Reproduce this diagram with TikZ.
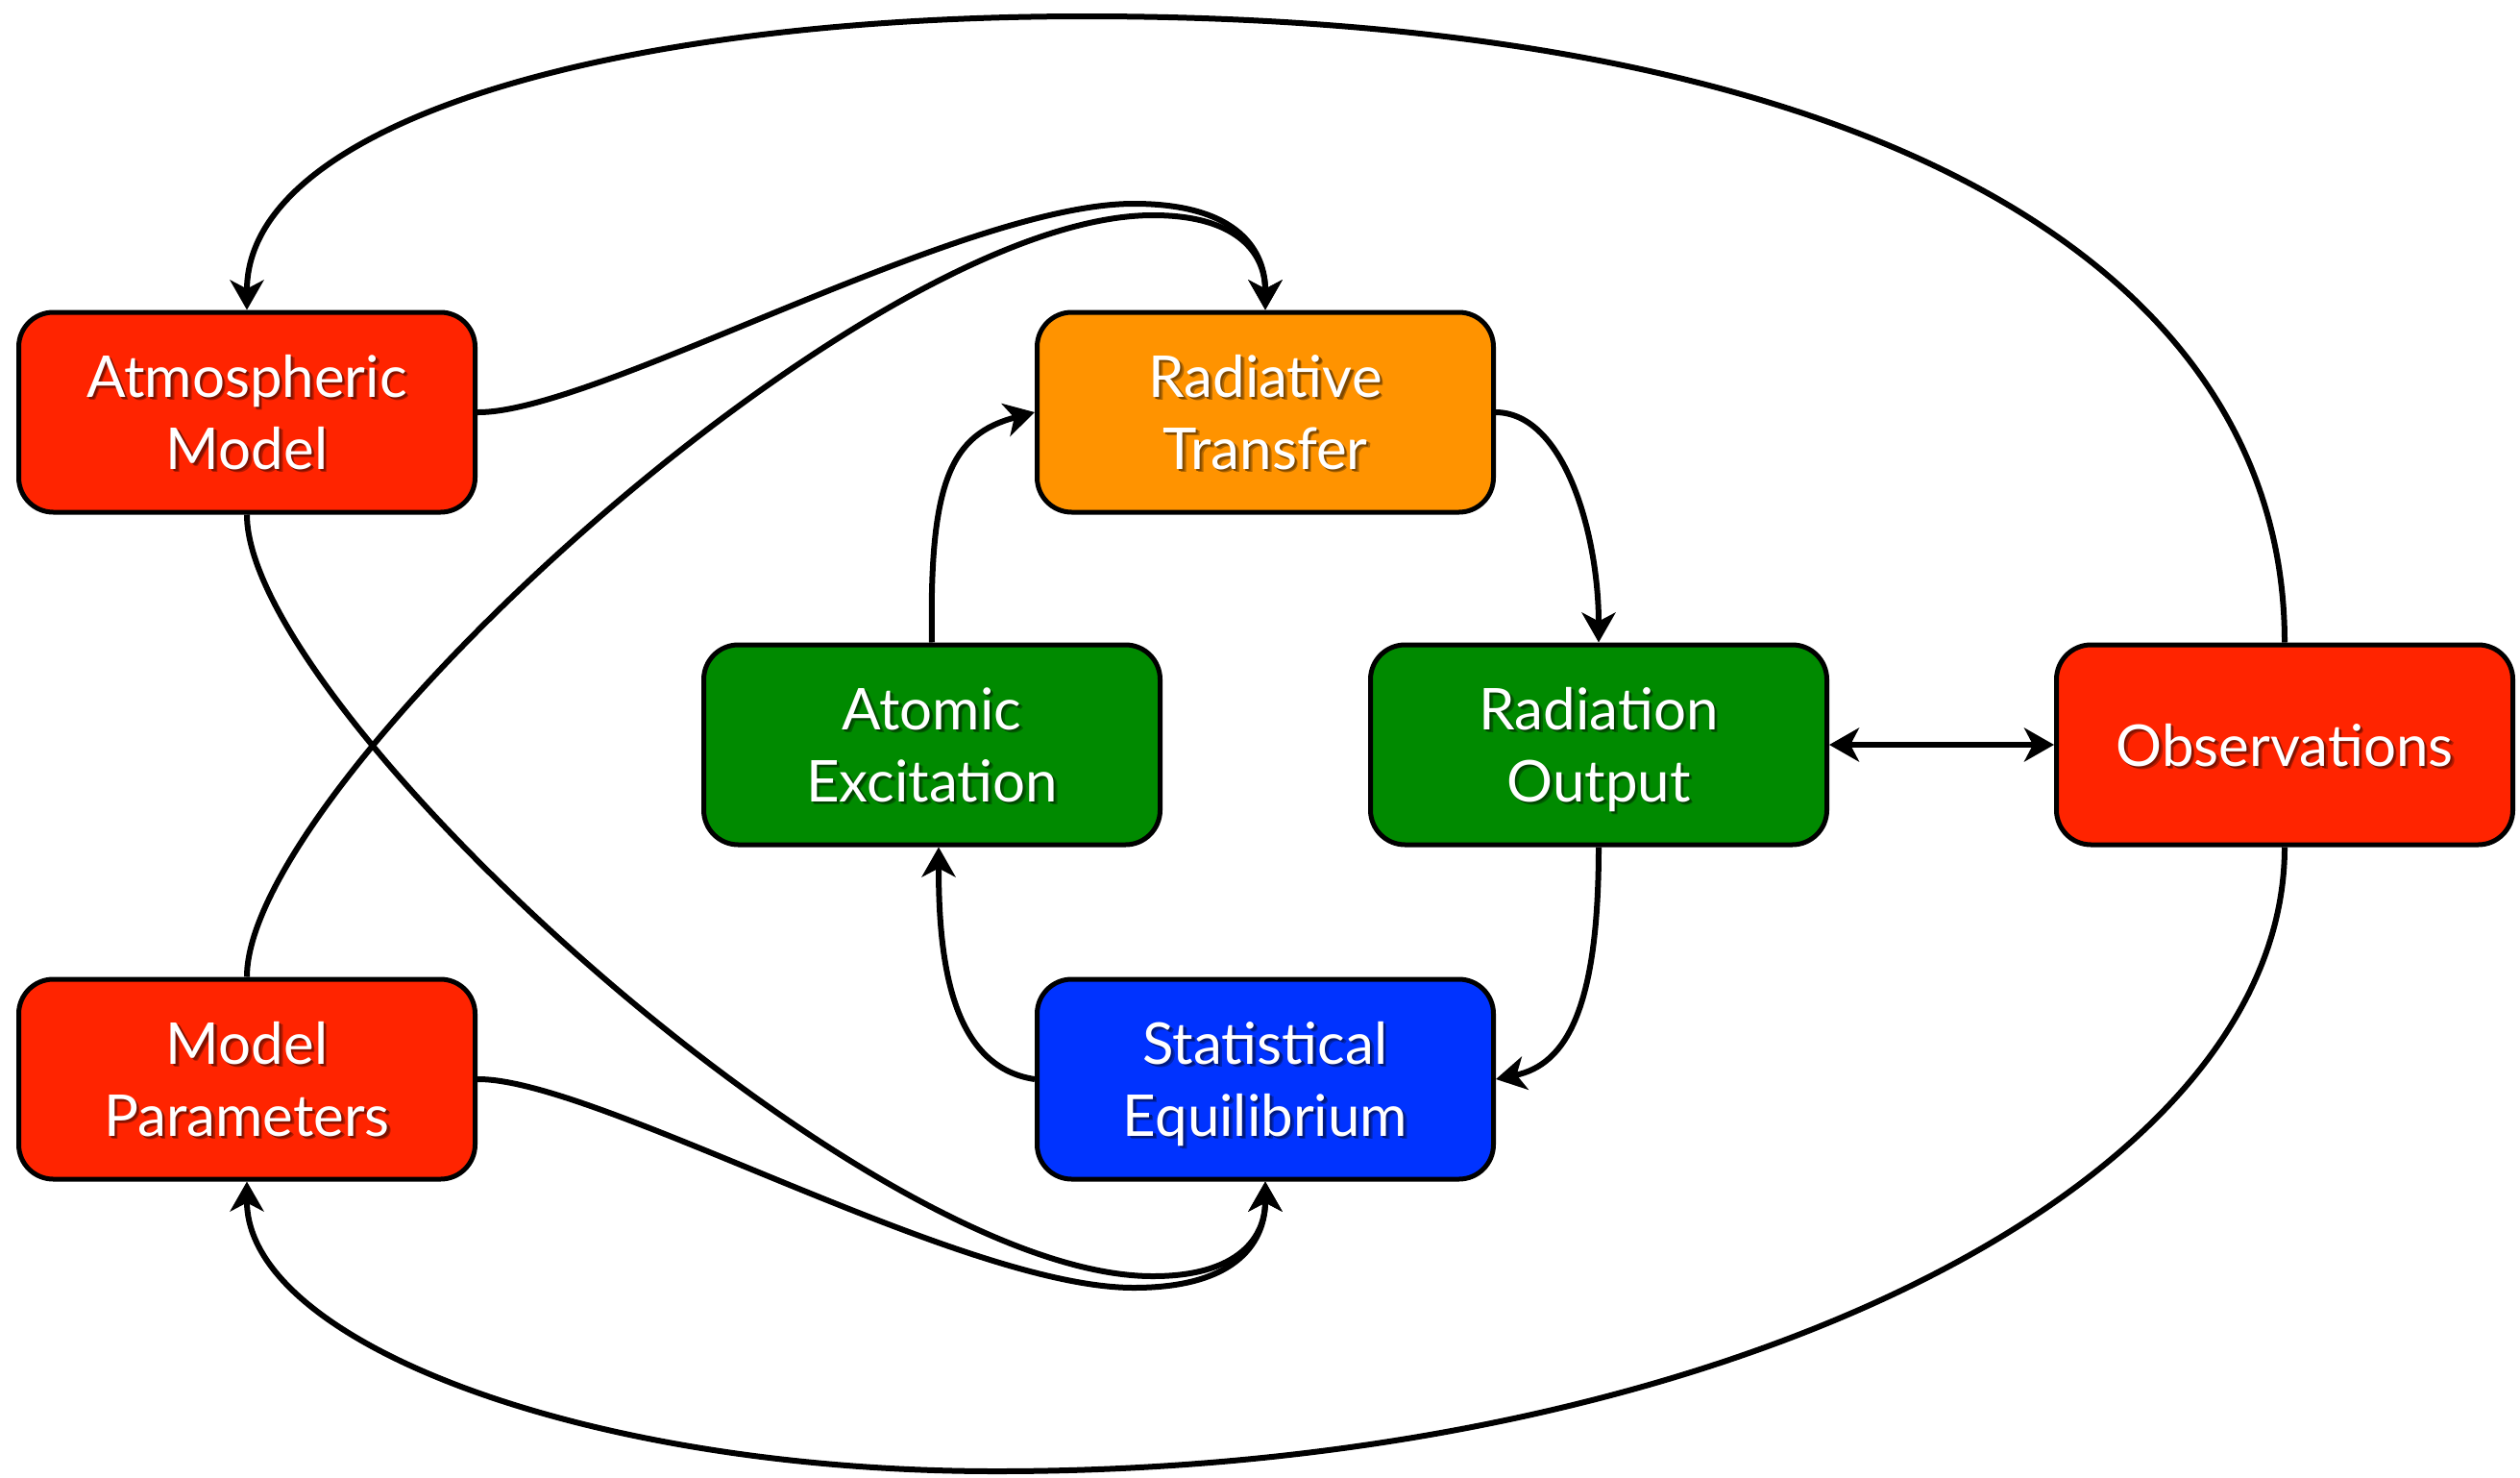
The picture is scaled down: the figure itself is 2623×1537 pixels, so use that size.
\documentclass[tikz,border=0pt]{standalone}
\usepackage{fontspec}
\setmainfont{Lato}
\usetikzlibrary{arrows.meta,calc}
\definecolor{boxred}{RGB}{255,36,0}
\definecolor{boxorange}{RGB}{255,147,0}
\definecolor{boxgreen}{RGB}{0,138,0}
\definecolor{boxblue}{RGB}{0,51,255}
\newcommand\lbfont{\fontsize{30pt}{36pt}\selectfont}
\newcommand\shtxt[2]{\rlap{\kern1.8pt\raisebox{-1.8pt}{\textcolor{#1!70!black}{#2}}}\rlap{\kern1.1pt\raisebox{-1.1pt}{\textcolor{#1!50!black}{#2}}}\textcolor{white}{#2}}
\begin{document}
\begin{tikzpicture}[x=0.5pt,y=-0.5pt,
  >={Stealth[length=15.5pt,width=17.5pt,inset=4.5pt]},
  box/.style={draw=black, line width=2.5pt, rounded corners=18pt, minimum width=237.5pt, minimum height=104pt, inner sep=0pt},
  lbl/.style={inner sep=0pt, anchor=base, font=\lbfont},
  conn/.style={line width=3pt, ->},
  both/.style={line width=3pt, <->}]
\useasboundingbox (0,0) rectangle (2623,1537);

\node[box, fill=boxred] (am) at (257,429) {};
\node[box, fill=boxorange] (rt) at (1317,429) {};
\node[box, fill=boxgreen] (ae) at (970,775) {};
\node[box, fill=boxgreen] (ro) at (1664,775) {};
\node[box, fill=boxred] (obs) at (2378,775) {};
\node[box, fill=boxred] (mp) at (257,1123) {};
\node[box, fill=boxblue] (se) at (1317,1123) {};

\node[lbl] (amA) at ($(am.center)+(0,-16)$) {\shtxt{boxred}{Atmospheric}};
\node[lbl] (amB) at ($(am.center)+(0,59)$) {\shtxt{boxred}{Model}};
\node[lbl] (rtA) at ($(rt.center)+(0,-16)$) {\shtxt{boxorange}{Radiative}};
\node[lbl] (rtB) at ($(rt.center)+(0,59)$) {\shtxt{boxorange}{Transfer}};
\node[lbl] (aeA) at ($(ae.center)+(0,-16)$) {\shtxt{boxgreen}{Atomic}};
\node[lbl] (aeB) at ($(ae.center)+(0,59)$) {\shtxt{boxgreen}{Excitation}};
\node[lbl] (roA) at ($(ro.center)+(0,-16)$) {\shtxt{boxgreen}{Radiation}};
\node[lbl] (roB) at ($(ro.center)+(0,59)$) {\shtxt{boxgreen}{Output}};
\node[lbl] (obsA) at ($(obs.center)+(0,22)$) {\shtxt{boxred}{Observations}};
\node[lbl] (mpA) at ($(mp.center)+(0,-16)$) {\shtxt{boxred}{Model}};
\node[lbl] (mpB) at ($(mp.center)+(0,59)$) {\shtxt{boxred}{Parameters}};
\node[lbl] (seA) at ($(se.center)+(0,-16)$) {\shtxt{boxblue}{Statistical}};
\node[lbl] (seB) at ($(se.center)+(0,59)$) {\shtxt{boxblue}{Equilibrium}};

% outer loops
\draw[conn] (obs.north) .. controls (2378,269) and (1930,17) .. (1130,17)
  .. controls (630,17) and (257,130) .. (am.north);
\draw[conn] (obs.south) .. controls (2378,1239) and (1775,1531) .. (1037,1531)
  .. controls (608,1531) and (257,1396) .. (mp.south);

% to radiative transfer
\draw[conn] (am.east) .. controls (620,430) and (1000,212) .. (1180,212)
  .. controls (1290,212) and (1317,262) .. (rt.north);
\draw[conn] (mp.north) .. controls (257,816) and (900,224) .. (1200,224)
  .. controls (1290,224) and (1317,265) .. (rt.north);

% to statistical equilibrium
\draw[conn] (am.south) .. controls (257,736) and (900,1328) .. (1200,1328)
  .. controls (1290,1328) and (1317,1287) .. (se.south);
\draw[conn] (mp.east) .. controls (620,1122) and (1000,1340) .. (1180,1340)
  .. controls (1290,1340) and (1317,1290) .. (se.south);

% inner cycle
\draw[conn] (ae.north) .. controls (967,500) and (990,452) .. (rt.west);
\draw[conn] (rt.east) .. controls (1630,430) and (1664,560) .. (ro.north);
\draw[conn] (ro.south) .. controls (1664,1050) and (1630,1108) .. (se.east);
\draw[conn] (se.west) .. controls (990,1110) and (977,1000) .. ([xshift=3.5pt]ae.south);
\draw[both] (ro.east) -- (obs.west);
\end{tikzpicture}
\end{document}
